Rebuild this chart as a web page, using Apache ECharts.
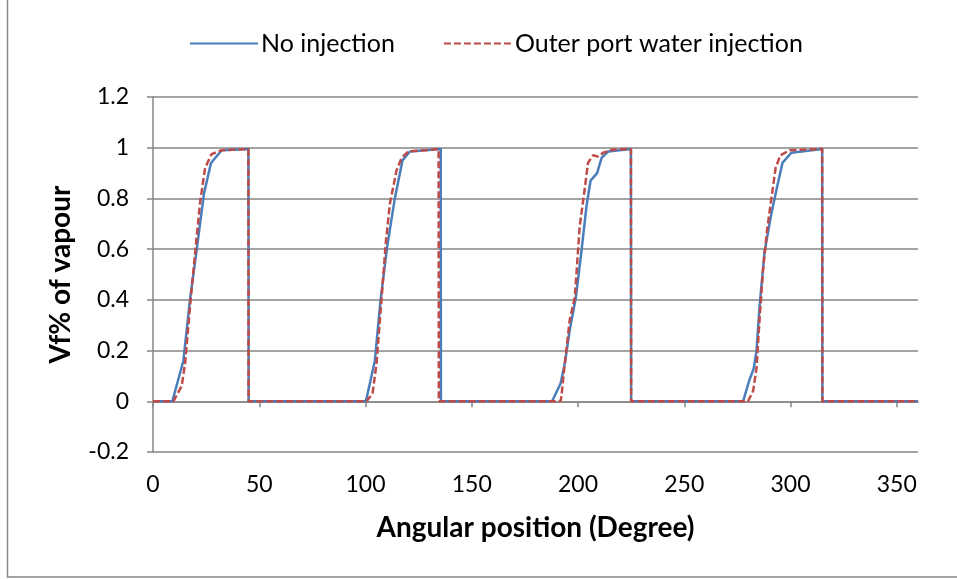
<!DOCTYPE html>
<html>
<head>
<meta charset="utf-8">
<script src="https://cdn.jsdelivr.net/npm/echarts@6/dist/echarts.min.js"></script>
<style>
  html, body { margin: 0; padding: 0; background: #ffffff; }
  #chart { width: 957px; height: 579px; }
</style>
</head>
<body>
<div id="chart"></div>
<script>
// Vapour volume fraction against angular position, four ports per revolution.
const seriesNames = ['No injection', 'Outer port water injection'];

// [angle (deg), vapour fraction]
const noInjection = [
  [0, 0], [9.1, 0], [14.3, 0.16], [17.4, 0.40], [20.6, 0.60], [24.0, 0.82], [27.3, 0.94], [32.3, 0.99], [44.9, 0.995],
  [45.0, 0],
  [100.2, 0], [104.4, 0.16], [107.1, 0.40], [110.2, 0.61], [113.8, 0.80], [117.4, 0.95], [120.9, 0.985], [135.4, 0.995],
  [135.5, 0],
  [187.8, 0], [191.8, 0.07], [193.8, 0.15], [196.1, 0.28], [199.0, 0.41], [201.6, 0.59], [204.0, 0.77], [205.9, 0.87],
  [209.0, 0.90], [211.1, 0.96], [214.2, 0.985], [224.9, 0.995],
  [225.0, 0],
  [277.7, 0], [280.5, 0.08], [282.7, 0.13], [284.0, 0.20], [285.5, 0.38], [287.8, 0.59], [291.0, 0.74], [293.3, 0.83],
  [296.2, 0.94], [300.4, 0.98], [314.9, 0.995],
  [315.0, 0],
  [360, 0]
];

const outerPortInjection = [
  [0, 0], [9.6, 0], [13.5, 0.06], [15.1, 0.15], [17.7, 0.40], [19.3, 0.54], [22.1, 0.78], [24.5, 0.92], [27.6, 0.975],
  [32.3, 0.99], [44.9, 0.995],
  [45.0, 0],
  [100.5, 0], [103.3, 0.03], [105.2, 0.15], [107.6, 0.41], [109.6, 0.63], [111.5, 0.78], [114.6, 0.91], [117.0, 0.96],
  [120.1, 0.985], [134.4, 0.995],
  [134.5, 0],
  [191.8, 0], [192.2, 0.02], [193.8, 0.15], [196.1, 0.32], [198.5, 0.41], [200.8, 0.69], [203.2, 0.84], [204.7, 0.94],
  [207.1, 0.97], [209.5, 0.965], [211.8, 0.98], [216.5, 0.993], [224.9, 0.995],
  [225.0, 0],
  [280.0, 0], [282.4, 0.04], [284.0, 0.13], [285.5, 0.33], [287.1, 0.52], [288.9, 0.67], [291.0, 0.80], [293.0, 0.92],
  [295.2, 0.97], [299.6, 0.99], [314.9, 0.995],
  [315.0, 0],
  [360, 0]
];

const xTicks = [0, 50, 100, 150, 200, 250, 300, 350];
const yTicks = [-0.2, 0, 0.2, 0.4, 0.6, 0.8, 1, 1.2];

const FONT = 'Lato';
const GRID_GRAY = '#868686';

const chart = echarts.init(document.getElementById('chart'), null, { renderer: 'canvas' });

chart.setOption({
  animation: false,
  backgroundColor: '#ffffff',
  textStyle: { fontFamily: FONT, color: '#000000' },
  graphic: [
    {
      type: 'polyline',
      shape: { points: [[7.5, -5], [7.5, 577], [965, 577]] },
      style: { stroke: GRID_GRAY, lineWidth: 1.5, fill: null },
      silent: true
    }
  ],
  legend: {
    left: 184,
    top: 26,
    itemWidth: 68,
    itemHeight: 14,
    itemGap: 48,
    itemStyle: { opacity: 0 },
    textStyle: { fontFamily: FONT, fontSize: 25, color: '#000000', padding: [0, 0, 0, -2] },
    data: seriesNames
  },
  grid: { left: 153, right: 39, top: 97, bottom: 127, containLabel: false, outerBoundsMode: 'none' },
  xAxis: {
    type: 'value',
    min: 0,
    max: 360,
    interval: 50,
    name: 'Angular position (Degree)',
    nameLocation: 'middle',
    nameGap: 62,
    nameTextStyle: { fontFamily: FONT, fontSize: 28, fontWeight: 'bold', color: '#000000' },
    axisLine: { show: true, onZero: true, lineStyle: { color: GRID_GRAY, width: 1.5 } },
    axisTick: { show: true, inside: false, length: 6, customValues: xTicks, lineStyle: { color: GRID_GRAY, width: 1.5 } },
    axisLabel: { customValues: xTicks, margin: 21, fontFamily: FONT, fontSize: 23, color: '#000000' },
    splitLine: { show: false }
  },
  yAxis: {
    type: 'value',
    min: -0.2,
    max: 1.2,
    interval: 0.2,
    name: 'Vf% of vapour',
    nameLocation: 'middle',
    nameGap: 78,
    nameTextStyle: { fontFamily: FONT, fontSize: 28, fontWeight: 'bold', color: '#000000' },
    axisLine: { show: true, lineStyle: { color: GRID_GRAY, width: 1.5 } },
    axisTick: { show: true, inside: false, length: 6, customValues: yTicks, lineStyle: { color: GRID_GRAY, width: 1.5 } },
    axisLabel: {
      customValues: yTicks,
      margin: 24,
      fontFamily: FONT,
      fontSize: 23,
      color: '#000000',
      formatter: v => String(+Number(v).toFixed(1))
    },
    splitLine: { show: true, lineStyle: { color: GRID_GRAY, width: 1.5 } }
  },
  series: [
    {
      name: seriesNames[0],
      type: 'line',
      data: noInjection,
      symbol: 'none',
      lineStyle: { color: '#4A7EBB', width: 2.5 },
      itemStyle: { color: '#4A7EBB' },
      z: 2
    },
    {
      name: seriesNames[1],
      type: 'line',
      data: outerPortInjection,
      symbol: 'none',
      lineStyle: { color: '#BE4B48', width: 2.5, type: [7, 3] },
      itemStyle: { color: '#BE4B48' },
      z: 3
    }
  ]
});
</script>
</body>
</html>
